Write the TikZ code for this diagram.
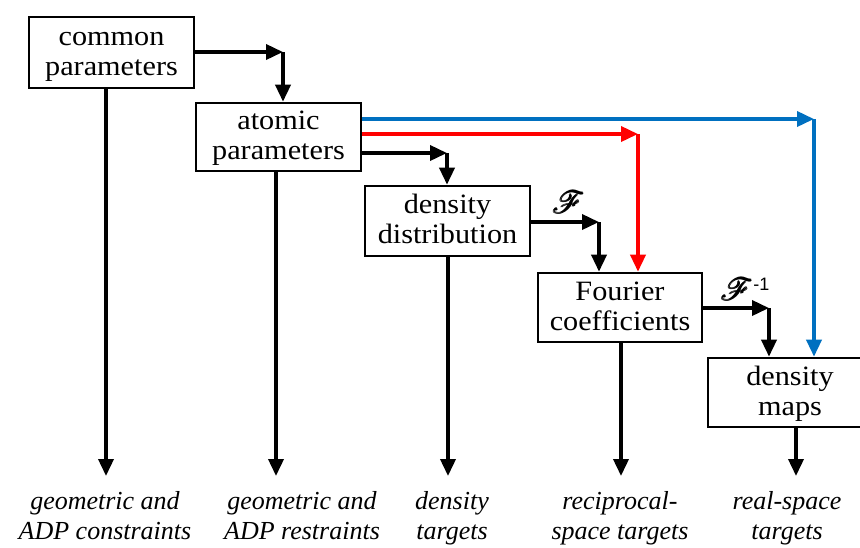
\documentclass[tikz,border=0pt]{standalone}
\usepackage{fontspec}
\setmainfont{Liberation Serif}[FakeStretch=1.08]
\newfontfamily\plainserif{Liberation Serif}
\newfontfamily\lsans{Liberation Sans}
\usepackage{amsmath,amsbsy}
\usepackage{mathrsfs}
\usepackage{graphicx}
\usetikzlibrary{arrows.meta}
\definecolor{myblue}{RGB}{0,112,192}
\definecolor{myred}{RGB}{255,0,0}
\newcommand{\bigF}{\scalebox{1.25}{$\pmb{\mathscr{F}}$}}
\begin{document}
\begin{tikzpicture}[x=1pt,y=-1pt,
  box/.style={draw, line width=2.6pt, align=center, inner sep=0pt,
    text height=53pt, text depth=8pt,
    font=\fontsize{28}{30}\selectfont},
  arr/.style={line width=3.6pt, -{Triangle[length=17pt,width=15pt]}},
  arrblue/.style={arr, draw=myblue},
  arrred/.style={arr, draw=myred},
  lab/.style={align=center, inner sep=0pt, anchor=base,
    font=\plainserif\fontsize{26}{30}\selectfont\itshape},
  flab/.style={inner sep=0pt, font=\fontsize{24.88}{30}\selectfont}]
\useasboundingbox (0,0) rectangle (860,547);
\clip (0,0) rectangle (860,547);
% boxes
\node[box, minimum width=165pt, minimum height=71pt] (common) at (111.5,52.5) {common\\parameters};
\node[box, minimum width=165pt, minimum height=68pt] (atomic) at (278.5,137) {atomic\\parameters};
\node[box, minimum width=165pt, minimum height=70pt] (ddist) at (447.5,221) {density\\distribution};
\node[box, minimum width=164pt, minimum height=69pt] (fourier) at (620,307.5) {Fourier\\coefficients};
\node[box, minimum width=164pt, minimum height=69pt] (maps) at (790,392.5) {density\\maps};
% corners
\coordinate (k1) at (283,52);
\coordinate (kb) at (814,119);
\coordinate (kr) at (638,134);
\coordinate (k2) at (447,153);
\coordinate (k3) at (599,222);
\coordinate (k4) at (769,308);
% right-down connectors
\draw[arr] (common.east |- k1) -- (k1);
\draw[arr] (k1) -- (k1 |- atomic.north);
\draw[arrblue] (atomic.east |- kb) -- (kb);
\draw[arrblue] (kb) -- (kb |- maps.north);
\draw[arrred] (atomic.east |- kr) -- (kr);
\draw[arrred] (kr) -- (kr |- fourier.north);
\draw[arr] (atomic.east |- k2) -- (k2);
\draw[arr] (k2) -- (k2 |- ddist.north);
\draw[arr] (ddist.east |- k3) -- (k3);
\draw[arr] (k3) -- (k3 |- fourier.north);
\draw[arr] (fourier.east |- k4) -- (k4);
\draw[arr] (k4) -- (k4 |- maps.north);
% transform labels
\node[flab] (ft) at (569,202) {\bigF};
\node[flab, anchor=west] (fti) at (721,289) {\bigF\raisebox{10pt}{\lsans\fontsize{18}{18}\selectfont -1}};
% down arrows
\coordinate (d1) at (106,476);
\coordinate (d2) at (276,476);
\coordinate (d3) at (448,476);
\coordinate (d4) at (621,476);
\coordinate (d5) at (796,476);
\draw[arr] (d1 |- common.south) -- (d1);
\draw[arr] (d2 |- atomic.south) -- (d2);
\draw[arr] (d3 |- ddist.south) -- (d3);
\draw[arr] (d4 |- fourier.south) -- (d4);
\draw[arr] (d5 |- maps.south) -- (d5);
% bottom labels
\node[lab] (l1) at (105,539) {geometric and\\ADP constraints};
\node[lab] (l2) at (302,539) {geometric and\\ADP restraints};
\node[lab] (l3) at (452,539) {density\\targets};
\node[lab] (l4) at (620,539) {reciprocal-\\space targets};
\node[lab] (l5) at (787,539) {real-space\\targets};
\end{tikzpicture}
\end{document}
